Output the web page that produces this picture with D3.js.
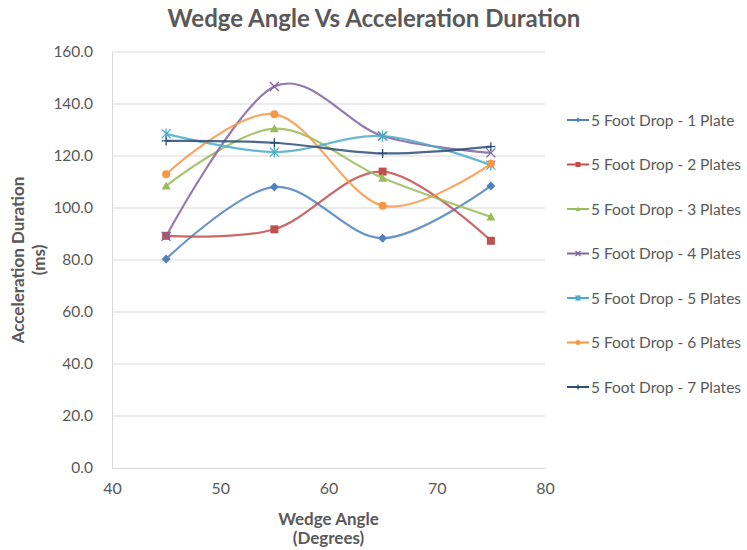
<!DOCTYPE html>
<html><head><meta charset="utf-8">
<script src="https://cdn.jsdelivr.net/npm/d3@7"></script>
<style>body{margin:0;background:#fff}svg{display:block}text{font-family:Lato,"Open Sans",sans-serif}</style>
</head><body><svg id="c" width="747" height="550"></svg>
<script>
const angles = [45, 55, 65, 75];
const seriesNames = ["5 Foot Drop - 1 Plate","5 Foot Drop - 2 Plates","5 Foot Drop - 3 Plates","5 Foot Drop - 4 Plates","5 Foot Drop - 5 Plates","5 Foot Drop - 6 Plates","5 Foot Drop - 7 Plates"];
const plate1 = [80.4, 108.1, 88.4, 108.5];
const plate2 = [89.3, 91.8, 114.0, 87.4];
const plate3 = [108.5, 130.5, 111.5, 96.6];
const plate4 = [89.1, 146.7, 127.7, 121.2];
const plate5 = [128.5, 121.5, 127.7, 116.5];
const plate6 = [113.0, 136.1, 100.9, 117.0];
const plate7 = [125.8, 125.1, 121.0, 123.6];
const xTicks = [40, 50, 60, 70, 80];
const yTicks = [0, 20, 40, 60, 80, 100, 120, 140, 160];
const colors = ["#4F81BD","#C0504D","#9BBB59","#8064A2","#4BACC6","#F79646","#2C4D75"];
const markers = ["diamond","square","triangle","x","star","circle","plus"];
const allSeries = [plate1,plate2,plate3,plate4,plate5,plate6,plate7];

const svg = d3.select("#c");
const L = 112, R = 545, T = 52, B = 468;
const x = d3.scaleLinear().domain([40,80]).range([L,R]);
const y = d3.scaleLinear().domain([0,160]).range([B,T]);
const grey = "#595959";

// gridlines
svg.append("g").selectAll("line").data(yTicks.filter(d=>d>0)).join("line")
  .attr("x1",L).attr("x2",R).attr("y1",d=>y(d)).attr("y2",d=>y(d))
  .attr("stroke","#D9D9D9").attr("stroke-width",1);
// axes
const yAxis = svg.append("g").attr("transform",`translate(${L},0)`)
  .call(d3.axisLeft(y).tickValues(yTicks).tickFormat(d3.format(".1f")).tickSize(0).tickPadding(19));
yAxis.select(".domain").attr("stroke","#D9D9D9");
yAxis.selectAll("text").attr("fill",grey).style("font-size","15.5px").style("font-family","Lato,sans-serif");
const xAxis = svg.append("g").attr("transform",`translate(0,${B})`)
  .call(d3.axisBottom(x).tickValues(xTicks).tickFormat(d3.format("d")).tickSize(0).tickPadding(15));
xAxis.select(".domain").attr("stroke","#D9D9D9");
xAxis.selectAll("text").attr("fill",grey).style("font-size","16px").style("font-family","Lato,sans-serif");

// title
svg.append("text").attr("x",374).attr("y",27).attr("text-anchor","middle")
  .attr("fill",grey).style("font-size","24px").style("font-weight","bold").text("Wedge Angle Vs Acceleration Duration");
// axis titles
svg.append("text").attr("x",x(60)).attr("y",525).attr("text-anchor","middle").attr("fill",grey)
  .style("font-size","17px").style("font-weight","bold").text("Wedge Angle");
svg.append("text").attr("x",x(60)).attr("y",544).attr("text-anchor","middle").attr("fill",grey)
  .style("font-size","17px").style("font-weight","bold").text("(Degrees)");
const yt = svg.append("g").attr("transform",`translate(24,${(T+B)/2}) rotate(-90)`);
yt.append("text").attr("x",0).attr("y",0).attr("text-anchor","middle").attr("fill",grey)
  .style("font-size","17px").style("font-weight","bold").text("Acceleration Duration");
yt.append("text").attr("x",0).attr("y",21).attr("text-anchor","middle").attr("fill",grey)
  .style("font-size","17px").style("font-weight","bold").text("(ms)");

function drawMarker(g, type, cx, cy, color, s){
  if(type==="diamond"){
    g.append("path").attr("d",`M${cx},${cy-s}L${cx+s},${cy}L${cx},${cy+s}L${cx-s},${cy}Z`).attr("fill",color);
  } else if(type==="square"){
    g.append("rect").attr("x",cx-s).attr("y",cy-s).attr("width",2*s).attr("height",2*s).attr("fill",color);
  } else if(type==="triangle"){
    g.append("path").attr("d",`M${cx},${cy-s}L${cx+s},${cy+s*0.8}L${cx-s},${cy+s*0.8}Z`).attr("fill",color);
  } else if(type==="x"){
    g.append("path").attr("d",`M${cx-s},${cy-s}L${cx+s},${cy+s}M${cx-s},${cy+s}L${cx+s},${cy-s}`).attr("stroke",color).attr("stroke-width",1.3);
  } else if(type==="star"){
    g.append("path").attr("d",`M${cx-s},${cy-s}L${cx+s},${cy+s}M${cx-s},${cy+s}L${cx+s},${cy-s}M${cx},${cy-s*1.2}L${cx},${cy+s*1.2}`).attr("stroke",color).attr("stroke-width",1.3);
  } else if(type==="circle"){
    g.append("circle").attr("cx",cx).attr("cy",cy).attr("r",s).attr("fill",color);
  } else if(type==="plus"){
    g.append("path").attr("d",`M${cx-s},${cy}L${cx+s},${cy}M${cx},${cy-s}L${cx},${cy+s}`).attr("stroke",color).attr("stroke-width",1.3);
  }
}

const line = d3.line().x((d,i)=>x(angles[i])).y(d=>y(d)).curve(d3.curveCardinal.tension(0));
allSeries.forEach((vals,si)=>{
  const g = svg.append("g");
  g.append("path").datum(vals).attr("d",line).attr("fill","none")
    .attr("stroke",colors[si]).attr("stroke-width",2.2).attr("stroke-opacity",0.85);
  vals.forEach((v,i)=>drawMarker(g, markers[si], x(angles[i]), y(v), colors[si], markers[si]==="square"?4:(markers[si]==="circle"?4:4.5)));
});

// legend
seriesNames.forEach((n,si)=>{
  const g = svg.append("g");
  const ly = 120 + si*44.5;
  g.append("line").attr("x1",567).attr("x2",589).attr("y1",ly).attr("y2",ly).attr("stroke",colors[si]).attr("stroke-width",2);
  drawMarker(g, markers[si], 578, ly, colors[si], 2.5);
  g.append("text").attr("x",591).attr("y",ly+5.5).attr("fill",grey).style("font-size","15.5px").text(n);
});
</script></body></html>
